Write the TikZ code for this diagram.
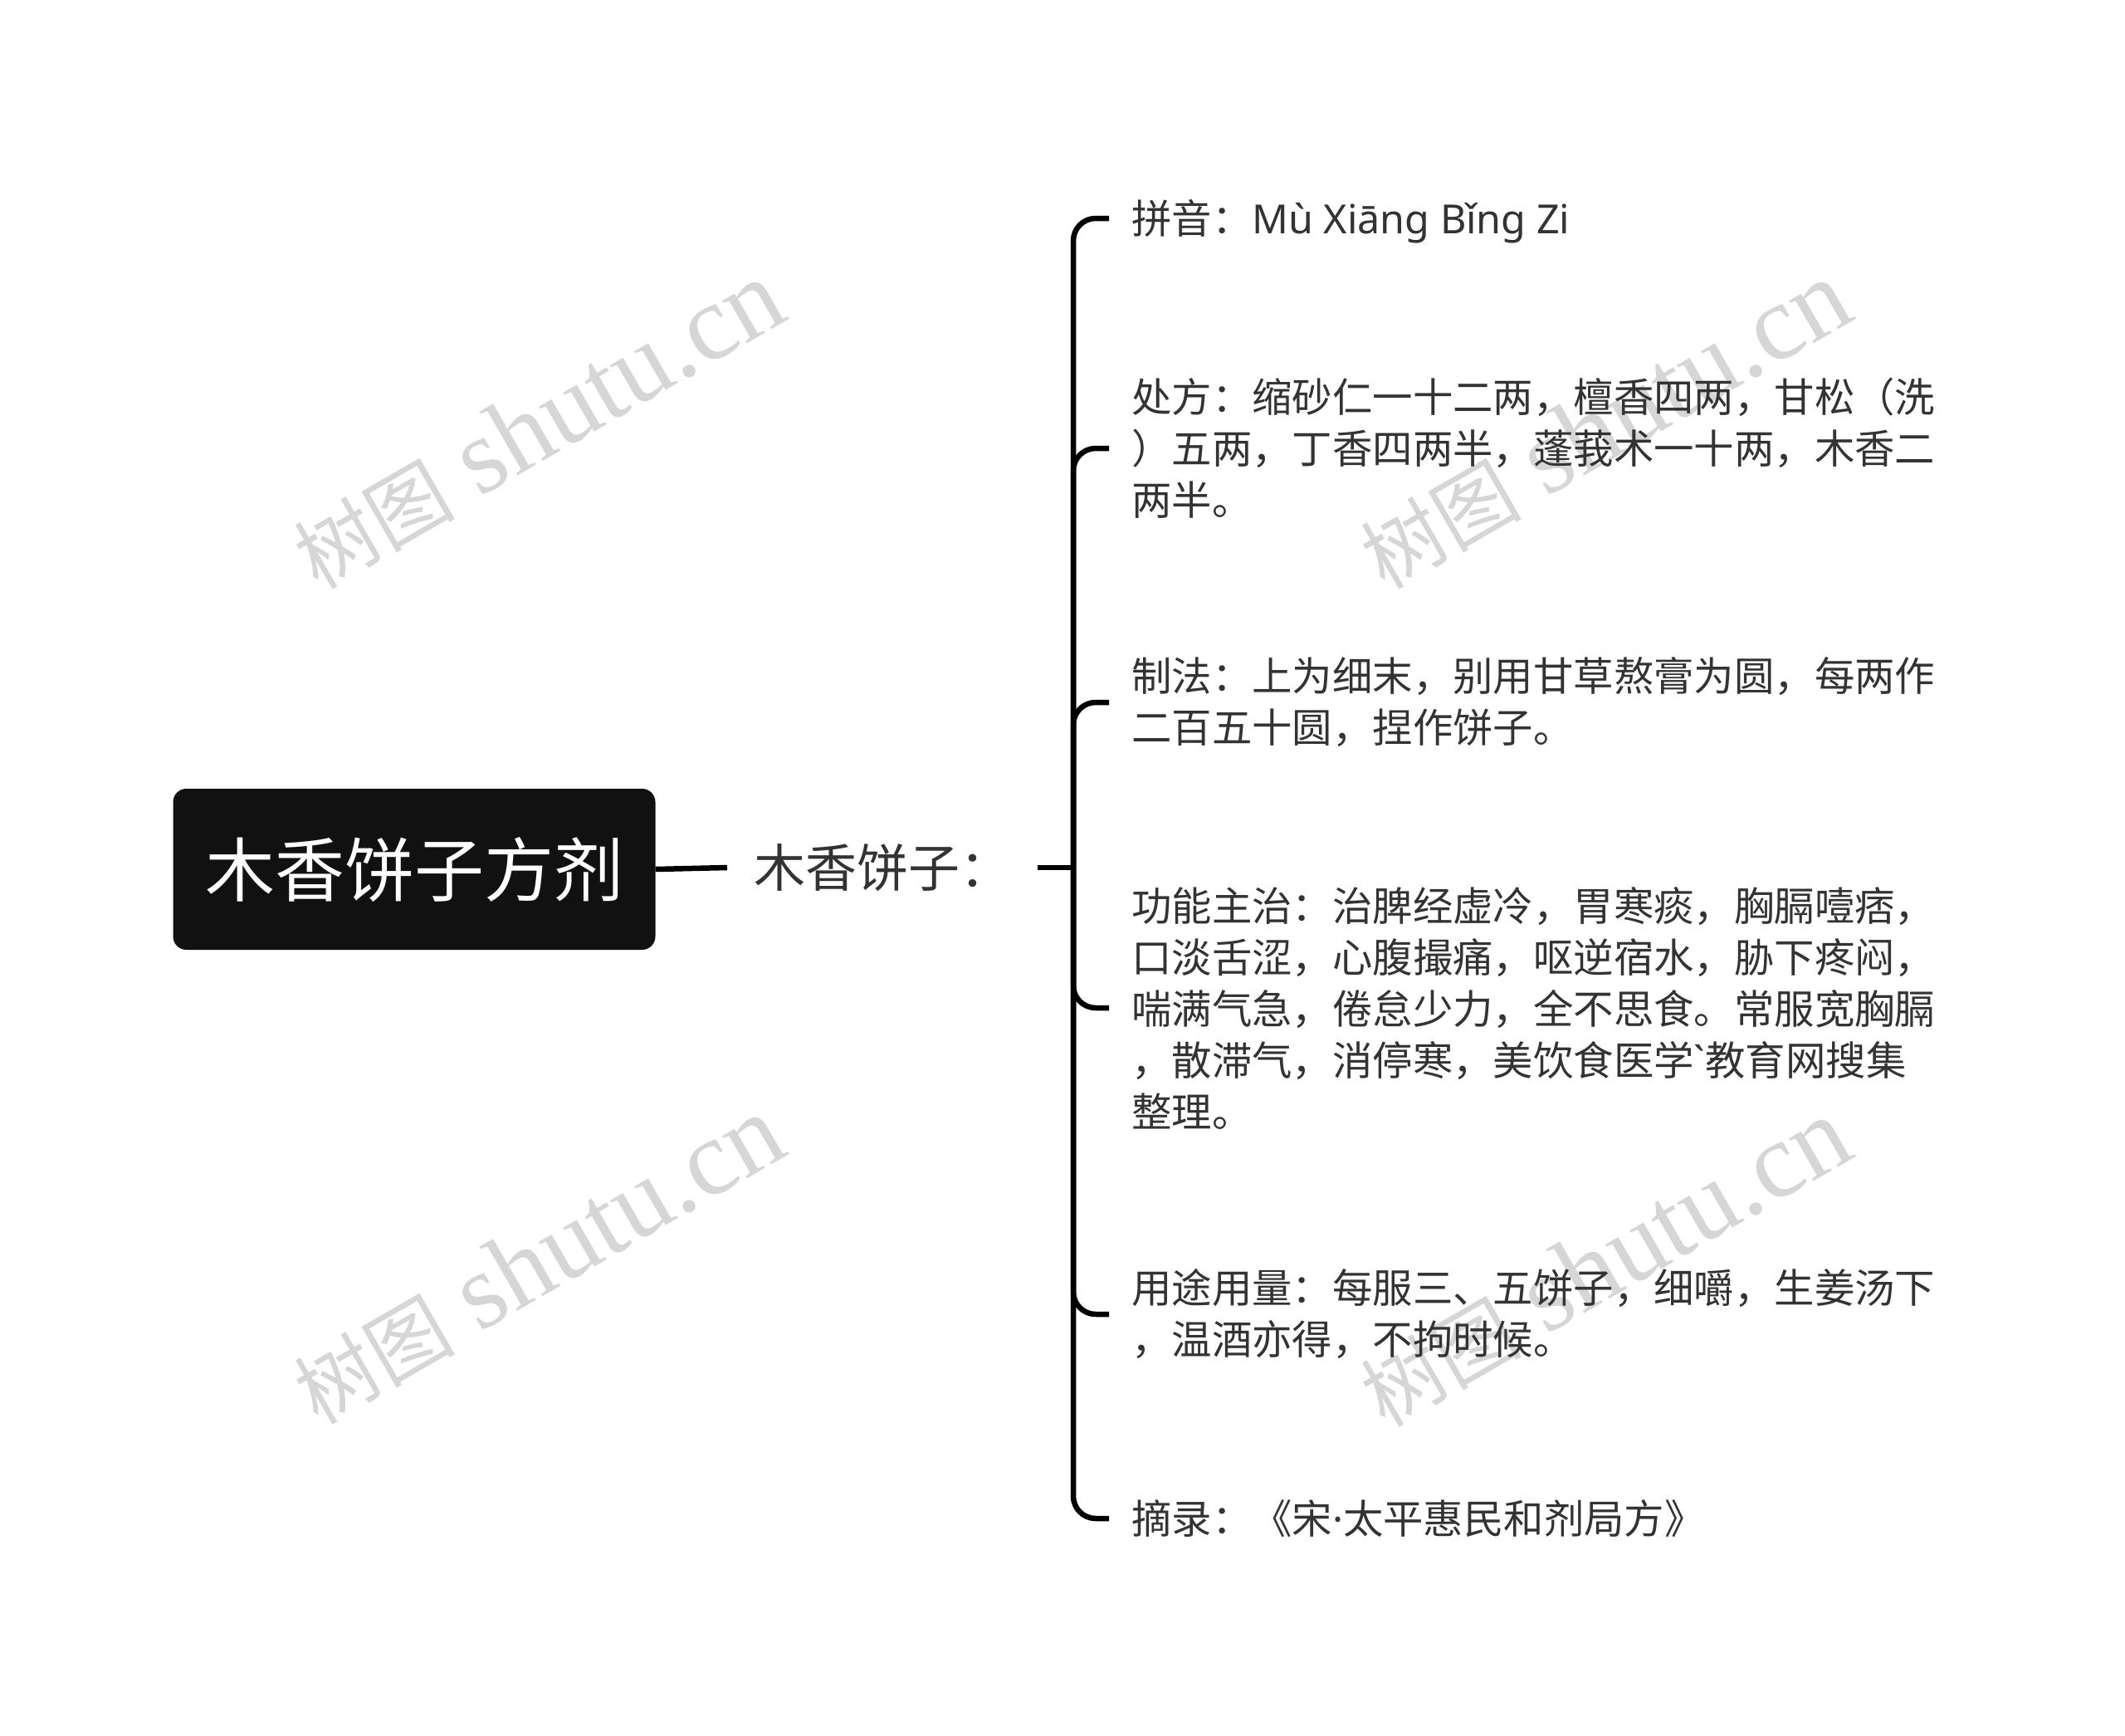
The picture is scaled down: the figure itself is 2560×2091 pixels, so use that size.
\documentclass[tikz,border=0pt]{standalone}
\usepackage{fontspec}
\newfontfamily\cjk{Noto Sans CJK SC}
\newfontfamily\lat{Noto Sans}
\newfontfamily\wmserif{Liberation Serif}
\usetikzlibrary{calc}
\definecolor{txt}{HTML}{333333}
\definecolor{wm}{HTML}{D6D6D6}
\definecolor{rootfill}{HTML}{111111}
\begin{document}
\begin{tikzpicture}[x=1pt,y=-1pt,
  conn/.style={line width=6.5pt, black},
  hook/.style={conn, rounded corners=27pt},
  item/.style={anchor=west, inner sep=0pt, align=left, text=txt, font=\cjk\fontsize{48.4}{62}\selectfont},
  oneline/.style={text height=42.6pt, text depth=5.8pt},
  rootbox/.style={fill=rootfill, rounded corners=16pt, text=white, minimum width=581pt, minimum height=194pt, font=\cjk\fontsize{84}{100}\selectfont, inner sep=0pt},
  subnode/.style={anchor=west, text=txt, font=\cjk\fontsize{62}{72}\selectfont, inner xsep=32pt, inner ysep=0pt},
  wmark/.style={text=wm, rotate=30, inner sep=0pt, font=\wmserif\fontsize{120}{130}\selectfont}
]
\useasboundingbox (0,0) rectangle (2560,2091);

% watermarks
\newcommand\wmtext{{\cjk\fontsize{97}{110}\selectfont 树图} {\fontsize{129}{140}\selectfont shutu.cn}}
\node[wmark] (w1) at (648,512) {\wmtext};
\node[wmark] (w2) at (1933,512) {\wmtext};
\node[wmark] (w3) at (648,1518) {\wmtext};
\node[wmark] (w4) at (1933,1521) {\wmtext};

% root and sub
\node[rootbox] (root) at (499,1047) {木香饼子方剂};
\node[subnode] (sub) at (876,1045) {木香饼子：};
\coordinate (hub) at (1293,1045);

% items
\node[item, oneline] (i1) at (1363,263) {拼音：{\lat Mù Xiāng Bǐng Zi}};
\node[item] (i2) at (1363,540) {处方：缩砂仁一十二两，檀香四两，甘松（洗\\）五两，丁香四两半，蓬莪术一十两，木香二\\两半。};
\node[item] (i3) at (1363,846) {制法：上为细末，别用甘草熬膏为圆，每两作\\二百五十圆，捏作饼子。};
\node[item] (i4) at (1363,1214) {功能主治：治脾经虚冷，胃寒痰，胸膈噎痞，\\口淡舌涩，心腹撮痛，呕逆宿水，胁下疼闷，\\喘满气急，倦怠少力，全不思食。常服宽胸膈\\，散滞气，消停寒，美饮食医学{\lat`}教育网搜集\\整理。};
\node[item] (i5) at (1363,1583) {用途用量：每服三、五饼子，细嚼，生姜汤下\\，温酒亦得，不拘时候。};
\node[item, oneline] (i6) at (1363,1829) {摘录：《宋{\lat ·}太平惠民和剂局方》};

% connectors
\draw[conn] (root.east) -- (sub.west);
\draw[conn] (sub.east) -- (hub);
\foreach \n in {i1,i2,i3,i4,i5,i6}
  \draw[hook] (hub) |- ([xshift=-27pt]\n.west);
\end{tikzpicture}
\end{document}
